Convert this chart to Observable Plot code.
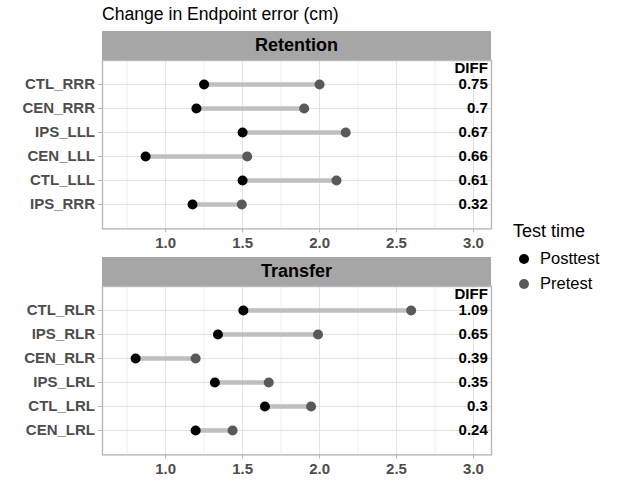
<!DOCTYPE html>
<html>
<head>
<meta charset="utf-8">
<script src="https://cdn.jsdelivr.net/npm/d3@7"></script>
<script src="https://cdn.jsdelivr.net/npm/@observablehq/plot@0.6"></script>
<style>
  html, body { margin: 0; padding: 0; background: #ffffff; }
  #root { position: relative; width: 618px; height: 501px; font-family: "Liberation Sans", Arial, sans-serif; overflow: hidden; }
  .title { position: absolute; left: 102px; top: 4px; font-size: 17.6px; color: #000; white-space: nowrap; }
  .strip { position: absolute; left: 102px; width: 389px; height: 29px; background: #a6a6a6; display: flex; align-items: center; justify-content: center; font-weight: bold; font-size: 18px; color: #000; }
  .panel { position: absolute; left: 0px; }
  .legend { position: absolute; left: 513px; top: 221px; }
  .legend .lt { font-size: 18px; color: #000; margin-bottom: 4px; white-space: nowrap; }
  .legend .item { display: flex; align-items: center; height: 25px; font-size: 16.5px; white-space: nowrap; }
  .legend svg { margin-right: 5px; }
</style>
</head>
<body>
<div id="root"></div>
<script>
// ---- data ----
const chartTitle = "Change in Endpoint error (cm)";
const panelTitles = ["Retention", "Transfer"];

const retentionGroups = ["CTL_RRR", "CEN_RRR", "IPS_LLL", "CEN_LLL", "CTL_LLL", "IPS_RRR"];
const retentionPost   = [1.25, 1.2, 1.5, 0.87, 1.5, 1.175];
const retentionPre    = [2.0, 1.9, 2.17, 1.53, 2.11, 1.495];
const retentionDiff   = ["0.75", "0.7", "0.67", "0.66", "0.61", "0.32"];

const transferGroups = ["CTL_RLR", "IPS_RLR", "CEN_RLR", "IPS_LRL", "CTL_LRL", "CEN_LRL"];
const transferPost   = [1.505, 1.34, 0.805, 1.32, 1.645, 1.195];
const transferPre    = [2.595, 1.99, 1.195, 1.67, 1.945, 1.435];
const transferDiff   = ["1.09", "0.65", "0.39", "0.35", "0.3", "0.24"];

const xTicks = [1.0, 1.5, 2.0, 2.5, 3.0];
const xMinorTicks = [0.75, 1.25, 1.75, 2.25, 2.75];
const diffHeader = "DIFF";
const legendTitle = "Test time";
const testTimes = ["Posttest", "Pretest"];
const timeColors = ["#000000", "#595959"];
const xDomain = [0.59, 3.117];

// ---- build ----
const root = document.getElementById("root");
const title = document.createElement("div");
title.className = "title";
title.textContent = chartTitle;
root.appendChild(title);

function makePanel(name, groups, post, pre, diffs, stripTop) {
  const rows = groups.map((g, i) => ({group: g, post: post[i], pre: pre[i], diff: diffs[i]}));
  const strip = document.createElement("div");
  strip.className = "strip";
  strip.style.top = stripTop + "px";
  strip.textContent = name;
  root.appendChild(strip);

  const plot = Plot.plot({
    width: 495,
    height: 200,
    marginLeft: 102,
    marginRight: 4,
    marginTop: 0,
    marginBottom: 31.6,
    style: {fontFamily: "'Liberation Sans', Arial, sans-serif", background: "transparent", overflow: "visible"},
    x: {domain: xDomain},
    y: {type: "point", domain: groups, padding: 1},
    marks: [
      Plot.gridX(xMinorTicks, {stroke: "#eeeeee", strokeOpacity: 1, strokeWidth: 1}),
      Plot.gridX(xTicks, {stroke: "#e2e2e2", strokeOpacity: 1, strokeWidth: 1}),
      Plot.gridY(groups, {stroke: "#e2e2e2", strokeOpacity: 1, strokeWidth: 1}),
      Plot.frame({stroke: "#b8b8b8", strokeWidth: 1.4}),
      Plot.axisY({tickSize: 4, tickPadding: 3.5, stroke: "#b3b3b3", fill: "#4d4d4d", fontSize: 15, fontWeight: "bold", label: null}),
      Plot.axisX(xTicks, {tickSize: 4, tickPadding: 4.5, tickFormat: ".1f", stroke: "#b3b3b3", fill: "#4d4d4d", fontSize: 15, fontWeight: "bold", label: null}),
      Plot.link(rows, {x1: "post", x2: "pre", y1: "group", y2: "group", stroke: "#bfbfbf", strokeWidth: 4.5}),
      Plot.dot(rows, {x: "pre", y: "group", r: 5, fill: timeColors[1], stroke: null}),
      Plot.dot(rows, {x: "post", y: "group", r: 5, fill: timeColors[0], stroke: null}),
      Plot.text(rows, {y: "group", text: "diff", frameAnchor: "right", textAnchor: "end", dx: -3.7, fontSize: 15, fontWeight: "bold", fill: "#000"}),
      Plot.text([diffHeader], {frameAnchor: "top-right", textAnchor: "end", lineAnchor: "middle", dx: -3.7, dy: 7.7, fontSize: 15, fontWeight: "bold", fill: "#000"})
    ]
  });
  const wrap = document.createElement("div");
  wrap.className = "panel";
  wrap.style.top = (stripTop + 29) + "px";
  wrap.appendChild(plot);
  root.appendChild(wrap);
}

makePanel(panelTitles[0], retentionGroups, retentionPost, retentionPre, retentionDiff, 31);
makePanel(panelTitles[1], transferGroups, transferPost, transferPre, transferDiff, 257);

// legend
const leg = document.createElement("div");
leg.className = "legend";
const lt = document.createElement("div");
lt.className = "lt";
lt.textContent = legendTitle;
leg.appendChild(lt);
testTimes.forEach((t, i) => {
  const item = document.createElement("div");
  item.className = "item";
  const svg = d3.create("svg").attr("width", 22).attr("height", 22);
  svg.append("circle").attr("cx", 11).attr("cy", 11).attr("r", 5).attr("fill", timeColors[i]);
  item.appendChild(svg.node());
  const span = document.createElement("span");
  span.textContent = t;
  item.appendChild(span);
  leg.appendChild(item);
});
root.appendChild(leg);
</script>
</body>
</html>
